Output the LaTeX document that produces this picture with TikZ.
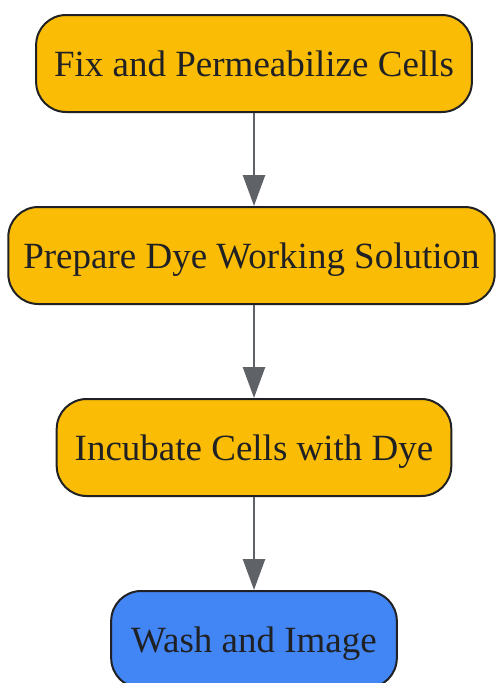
\documentclass[tikz,border=0pt]{standalone}
\usepackage{fontspec}
\setmainfont{Liberation Serif}
\usepackage{tikz}
\usetikzlibrary{arrows.meta, positioning}
\definecolor{gold}{HTML}{FBBC05}
\definecolor{azure}{HTML}{4285F4}
\definecolor{ink}{HTML}{202124}
\definecolor{slate}{HTML}{5F6368}
\tikzset{
  stage/.style={rectangle, rounded corners=30pt, draw=ink, line width=2pt, fill=gold,
    text=ink, font=\fontsize{37}{44}\selectfont, minimum height=97pt,
    text height=26.5pt, text depth=0pt,
    align=center, inner xsep=18pt, inner ysep=4pt},
  stage/last/.style={stage, fill=azure, inner xsep=20pt},
  ar/.style={-{Triangle[length=31pt, width=22pt]}, draw=slate, line width=2.5pt},
}

\begin{document}
\begin{tikzpicture}[x=1pt, y=-1pt]
\useasboundingbox (0,0) rectangle (496,683);

\node[stage]      (FIX)  at (254,63.5)  {Fix and Permeabilize Cells};
\node[stage, inner xsep=15pt] (PREP) at (251.5,255.5) {Prepare Dye Working Solution};
\node[stage]      (INC)  at (254,447.5) {Incubate Cells with Dye};
\node[stage/last] (WASH) at (254,639.5) {Wash and Image};

\draw[ar] (FIX.south) -- (FIX.south |- PREP.north);
\draw[ar] (PREP.south -| FIX.south) -- (INC.north);
\draw[ar] (INC.south) -- (WASH.north);
\end{tikzpicture}
\end{document}
